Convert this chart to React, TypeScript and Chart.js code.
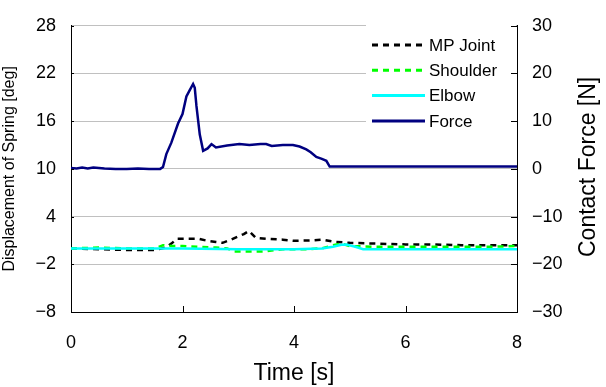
import React, { useEffect, useRef } from "react";
import { Chart, registerables } from "chart.js";

Chart.register(...registerables);

// ---- Data ----
const forceTime = [0, 0.1, 0.2, 0.3, 0.4, 0.5, 0.6, 0.8, 1.0, 1.2, 1.4, 1.6, 1.65, 1.71, 1.8, 1.92, 2.0, 2.07, 2.13, 2.19, 2.22, 2.25, 2.31, 2.37, 2.45, 2.52, 2.6, 2.8, 3.02, 3.2, 3.4, 3.5, 3.6, 3.8, 3.98, 4.1, 4.22, 4.3, 4.4, 4.5, 4.58, 4.64, 5, 6, 7, 8];
const forceValues = [0.2, 0.1, 0.3, 0.1, 0.3, 0.2, 0.1, 0, 0, 0.1, 0, 0, 0.4, 3.1, 5.5, 9.5, 11.5, 15.2, 16.5, 17.8, 17, 13.2, 7.2, 3.8, 4.3, 5.2, 4.5, 4.9, 5.2, 5.0, 5.2, 5.2, 4.8, 5.0, 5.0, 4.7, 4.1, 3.5, 2.5, 2.1, 1.7, 0.5, 0.5, 0.5, 0.5, 0.5];

const mpTime = [0, 0.5, 1.0, 1.5, 1.7, 1.8, 1.9, 2.1, 2.3, 2.45, 2.6, 2.72, 2.87, 3.0, 3.1, 3.19, 3.32, 3.5, 3.8, 4.0, 4.3, 4.52, 4.7, 5.0, 5.5, 6, 6.5, 7, 7.5, 8];
const mpValues = [0, -0.1, -0.2, -0.2, 0.1, 0.6, 1.2, 1.2, 1.2, 0.95, 0.8, 0.7, 1.1, 1.5, 1.8, 2.2, 1.3, 1.2, 1.1, 0.95, 1.0, 1.1, 0.85, 0.7, 0.6, 0.5, 0.5, 0.4, 0.4, 0.4];

const shoulderTime = [0, 0.5, 1, 1.5, 1.65, 1.8, 2.0, 2.3, 2.6, 2.8, 2.93, 3.15, 3.45, 3.8, 4.2, 4.5, 4.7, 4.85, 5.0, 5.5, 6, 6.5, 7, 7.5, 8];
const shoulderValues = [0, 0.1, 0, 0, 0.4, 0.3, 0.3, 0.2, 0.1, 0, -0.4, -0.4, -0.4, -0.1, -0.1, 0, 0.4, 0.6, 0.3, 0.2, 0.2, 0.2, 0.2, 0.2, 0.3];

const elbowTime = [0, 1, 2, 3, 4, 4.5, 4.7, 4.85, 4.94, 5.1, 5.24, 6, 7, 8];
const elbowValues = [0, 0, 0, -0.1, -0.1, 0, 0.2, 0.45, 0.5, 0.2, -0.1, -0.1, -0.1, -0.1];

const seriesLabels = ["MP Joint", "Shoulder", "Elbow", "Force"];
const xAxisTitle = "Time [s]";
const leftAxisTitle = "Displacement of Spring [deg]";
const rightAxisTitle = "Contact Force [N]";

const toPoints = (xs: number[], ys: number[]) => xs.map((x, i) => ({ x, y: ys[i] }));
const fmt = (v: number) => (v < 0 ? "\u2212" + Math.abs(v) : String(v));

const FONT = "'Liberation Sans', Arial, sans-serif";

const legendPlugin = {
  id: "insideLegend",
  beforeDatasetsDraw(chart: any) {
    const { ctx, chartArea } = chart;
    ctx.save();
    ctx.fillStyle = "#ffffff";
    ctx.fillRect(366, 24, chartArea.right - 366 - 1, 118);
    ctx.restore();
  },
  afterDatasetsDraw(chart: any) {
    const { ctx } = chart;
    const order = [0, 1, 2, 3];
    ctx.save();
    order.forEach((idx, row) => {
      const ds = chart.data.datasets[idx];
      const y = 45 + row * 25.3;
      ctx.beginPath();
      ctx.strokeStyle = ds.borderColor;
      ctx.lineWidth = 3;
      ctx.setLineDash(ds.borderDash || []);
      ctx.moveTo(372, y);
      ctx.lineTo(425, y);
      ctx.stroke();
      ctx.setLineDash([]);
      ctx.fillStyle = "#000";
      ctx.font = `17px ${FONT}`;
      ctx.textBaseline = "middle";
      ctx.textAlign = "left";
      ctx.fillText(ds.label, 429, y + 1);
    });
    ctx.restore();
  },
  afterDraw(chart: any) {
    const { ctx, chartArea, scales } = chart;
    ctx.save();
    ctx.strokeStyle = "#000";
    ctx.lineWidth = 1;
    scales.x.ticks.forEach((t: any) => {
      const px = Math.round(scales.x.getPixelForValue(t.value)) + 0.5;
      ctx.beginPath();
      ctx.moveTo(px, chartArea.bottom);
      ctx.lineTo(px, chartArea.bottom - 6);
      ctx.stroke();
    });
    scales.y2.ticks.forEach((t: any) => {
      const py = Math.round(scales.y2.getPixelForValue(t.value)) + 0.5;
      ctx.beginPath();
      ctx.moveTo(chartArea.right, py);
      ctx.lineTo(chartArea.right - 6, py);
      ctx.stroke();
    });
    scales.y.ticks.forEach((t: any) => {
      const py = Math.round(scales.y.getPixelForValue(t.value)) + 0.5;
      ctx.beginPath();
      ctx.moveTo(chartArea.left, py);
      ctx.lineTo(chartArea.left + 3, py);
      ctx.stroke();
    });
    // right axis title, reading bottom-to-top
    const cx = scales.y2.right - 17;
    const cy = (chartArea.top + chartArea.bottom) / 2 - 2;
    ctx.translate(cx, cy);
    ctx.rotate(-Math.PI / 2);
    ctx.fillStyle = "#000";
    ctx.font = `23px ${FONT}`;
    ctx.textAlign = "center";
    ctx.textBaseline = "middle";
    ctx.fillText(rightAxisTitle, 0, 0);
    ctx.restore();
  },
};

export default function App() {
  const canvasRef = useRef<HTMLCanvasElement | null>(null);

  useEffect(() => {
    document.body.style.margin = "0";
    const canvas = canvasRef.current;
    if (!canvas) return;
    const chart = new Chart(canvas, {
      type: "line",
      data: {
        datasets: [
          {
            label: seriesLabels[0],
            data: toPoints(mpTime, mpValues),
            borderColor: "#000000",
            borderWidth: 2.5,
            borderDash: [6, 5],
            pointRadius: 0,
            yAxisID: "y",
            order: 3,
          },
          {
            label: seriesLabels[1],
            data: toPoints(shoulderTime, shoulderValues),
            borderColor: "#00ff00",
            borderWidth: 2.5,
            borderDash: [6, 5],
            pointRadius: 0,
            yAxisID: "y",
            order: 2,
          },
          {
            label: seriesLabels[2],
            data: toPoints(elbowTime, elbowValues),
            borderColor: "#00ffff",
            borderWidth: 2.5,
            pointRadius: 0,
            yAxisID: "y",
            order: 1,
          },
          {
            label: seriesLabels[3],
            data: toPoints(forceTime, forceValues),
            borderColor: "#000080",
            borderWidth: 2.5,
            pointRadius: 0,
            yAxisID: "y2",
            order: 0,
          },
        ],
      },
      options: {
        responsive: false,
        animation: false,
        devicePixelRatio: 1,
        layout: { padding: { top: 13, left: 0, right: 0, bottom: 0 } },
        plugins: { legend: { display: false }, tooltip: { enabled: false } },
        elements: { line: { tension: 0 } },
        scales: {
          x: {
            type: "linear",
            min: 0,
            max: 8,
            ticks: { stepSize: 2, padding: 20, color: "#000", font: { family: FONT, size: 18 }, maxRotation: 0, callback: (v: any) => fmt(v) },
            grid: { display: false, drawTicks: false },
            border: { display: true, color: "#000", width: 1 },
            title: { display: true, text: xAxisTitle, color: "#000", font: { family: FONT, size: 23 }, padding: { top: 0, bottom: 0 } },
            afterFit: (s: any) => { s.height = 75; },
          },
          y: {
            type: "linear",
            position: "left",
            min: -8,
            max: 28,
            ticks: { stepSize: 6, padding: 15, color: "#000", font: { family: FONT, size: 18 }, callback: (v: any) => fmt(v) },
            grid: { display: true, color: "#c0c0c0", lineWidth: 1, drawTicks: false },
            border: { display: true, color: "#000", width: 1 },
            title: { display: true, text: leftAxisTitle, color: "#000", font: { family: FONT, size: 16 }, padding: { top: 0, bottom: 8 } },
            afterFit: (s: any) => { s.width = 71; },
          },
          y2: {
            type: "linear",
            position: "right",
            min: -30,
            max: 30,
            ticks: { stepSize: 10, padding: 15, color: "#000", font: { family: FONT, size: 18 }, callback: (v: any) => fmt(v) },
            grid: { display: false, drawTicks: false },
            border: { display: true, color: "#000", width: 1 },
            title: { display: false, text: rightAxisTitle },
            afterFit: (s: any) => { s.width = 89; },
          },
        },
      },
      plugins: [legendPlugin],
    });
    return () => chart.destroy();
  }, []);

  return (
    <div style={{ width: 606, height: 387, background: "#fff" }}>
      <canvas ref={canvasRef} width={606} height={387} />
    </div>
  );
}
